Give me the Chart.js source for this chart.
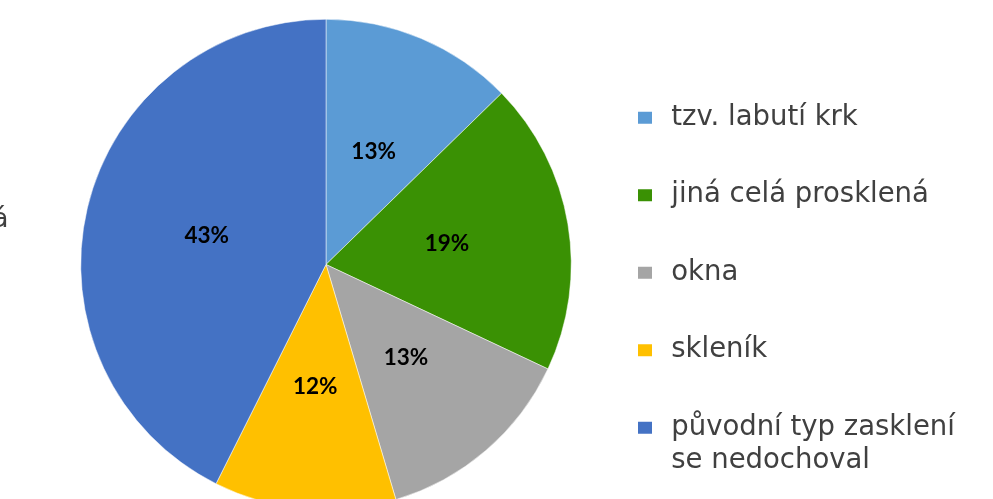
<!DOCTYPE html>
<html>
<head>
<meta charset="utf-8">
<script src="https://cdn.jsdelivr.net/npm/chart.js@4/dist/chart.umd.min.js"></script>
<style>
  html, body { margin: 0; padding: 0; background: #ffffff; overflow: hidden; width: 993px; height: 499px; }
  #wrap { position: relative; width: 993px; height: 529px; }
  #cut { position: absolute; left: -8px; top: 204px; font-family: "DejaVu Sans", sans-serif; font-size: 27px; line-height: 27px; color: #404040; white-space: nowrap; }
  canvas { position: absolute; left: 0; top: 0; }
</style>
</head>
<body>
<div id="wrap">
  <canvas id="c" width="993" height="529"></canvas>
  <div id="cut">á</div>
</div>
<script>
const categories = ['tzv. labutí krk', 'jiná celá prosklená', 'okna', 'skleník', ['původní typ zasklení', 'se nedochoval']];
const shares = [12.7, 19.3, 13.4, 12.0, 42.6];
const sliceColors = ['#5b9bd5', '#3a9104', '#a5a5a5', '#ffc000', '#4472c4'];

const pctLabels = {
  id: 'pctLabels',
  afterDatasetsDraw(chart) {
    const ctx = chart.ctx;
    const meta = chart.getDatasetMeta(0);
    const data = chart.data.datasets[0].data;
    const total = data.reduce((a, b) => a + b, 0);
    ctx.save();
    ctx.font = 'bold 22.5px Lato, "Noto Sans", sans-serif';
    ctx.fillStyle = '#000000';
    ctx.textAlign = 'center';
    ctx.textBaseline = 'middle';
    meta.data.forEach((arc, i) => {
      const p = arc.tooltipPosition();
      ctx.fillText(Math.round(data[i] / total * 100) + '%', p.x, p.y);
    });
    ctx.restore();
  }
};

new Chart(document.getElementById('c'), {
  type: 'pie',
  data: {
    labels: categories,
    datasets: [{
      data: shares,
      backgroundColor: sliceColors,
      borderColor: '#ffffff',
      borderWidth: 0.5
    }]
  },
  options: {
    responsive: false,
    animation: false,
    layout: { padding: { top: 19, bottom: 19, left: 69.5, right: 0 } },
    plugins: {
      tooltip: { enabled: false },
      legend: {
        position: 'right',
        align: 'start',
        maxWidth: 410.5,
        title: { display: true, text: '', font: { size: 10 }, padding: { top: 23, bottom: 0 } },
        labels: {
          boxWidth: 25,
          boxHeight: 23,
          padding: 50,
          color: '#404040',
          font: { family: '"DejaVu Sans", sans-serif', size: 27.5, lineHeight: 1.19 },
          generateLabels(chart) {
            const items = Chart.overrides.pie.plugins.legend.labels.generateLabels(chart);
            return items.map(it => Object.assign(it, { lineWidth: 11, strokeStyle: '#ffffff' }));
          }
        }
      }
    }
  },
  plugins: [pctLabels]
});
</script>
</body>
</html>
